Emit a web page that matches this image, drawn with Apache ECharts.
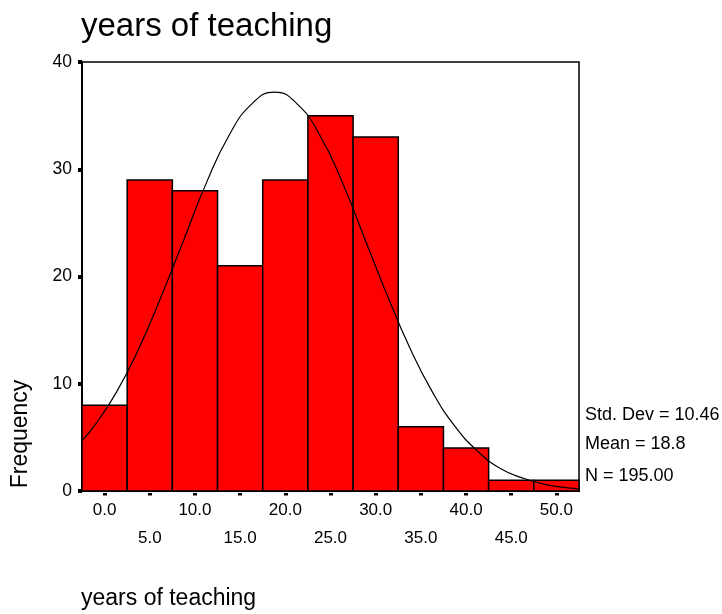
<!DOCTYPE html>
<html lang="en">
<head>
    <meta charset="UTF-8">
    <title>years of teaching</title>
    <script type="text/javascript" src="https://cdn.jsdelivr.net/npm/echarts@6/dist/echarts.min.js"></script>
    <style>
        html, body { margin: 0; padding: 0; background: #fff; }
        #hist { width: 722px; height: 614px; }
    </style>
</head>
<body>
<div id="hist"></div>
<script type="text/javascript">
    // bins (centre of each 5-year bin) and counts
    var binCenters = [0, 5, 10, 15, 20, 25, 30, 35, 40, 45, 50];
    var frequencies = [8, 29, 28, 21, 29, 35, 33, 6, 4, 1, 1];
    var binWidth = 5;

    // normal curve
    var curveX = [-2.5, -1.2, 1.3, 3.8, 6.3, 8.8, 11.3, 13.8, 16.3, 18.8, 21.3, 23.8, 26.3,
                  28.8, 31.3, 33.8, 36.3, 38.8, 41.3, 43.8, 46.3, 48.8, 51.3, 52.5];
    var curveY = [4.7, 6.0, 9.2, 13.3, 18.2, 23.5, 28.8, 33.2, 36.1, 37.2, 36.1, 33.2, 28.8,
                  23.5, 18.2, 13.3, 9.2, 6.0, 3.7, 2.1, 1.2, 0.6, 0.3, 0.2];

    var stats = ['Std. Dev = 10.46', 'Mean = 18.8', 'N = 195.00'];

    var font = "'Liberation Sans', Arial, sans-serif";
    var hist = echarts.init(document.getElementById('hist'));

    var option = {
        animation: false,
        textStyle: { fontFamily: font, color: '#000' },
        title: {
            text: 'years of teaching',
            left: 76,
            top: 5,
            textStyle: { fontFamily: font, fontSize: 33, fontWeight: 'normal', color: '#000' }
        },
        grid: {
            left: 82, top: 62, right: 143, bottom: 123,
            show: true, borderColor: '#000', borderWidth: 1.5, backgroundColor: '#fff'
        },
        xAxis: [{
            type: 'value', min: -2.5, max: 52.5,
            axisLine: { show: true, onZero: false, lineStyle: { color: '#000', width: 2 } },
            axisTick: { show: false },
            axisLabel: { show: false },
            splitLine: { show: false }
        }, {
            type: 'value', min: -2.5, max: 52.5, position: 'bottom', offset: 2,
            axisLine: { show: false, onZero: false },
            axisTick: { show: true, customValues: binCenters, length: 2.5,
                        lineStyle: { color: '#000', width: 4 } },
            axisLabel: {
                customValues: binCenters,
                fontFamily: font, fontSize: 17, color: '#000',
                lineHeight: 28, margin: 3.5,
                formatter: function (v) {
                    var i = binCenters.indexOf(v);
                    var s = v.toFixed(1);
                    return i % 2 === 0 ? s : '\n' + s;
                }
            },
            splitLine: { show: false }
        }],
        yAxis: {
            type: 'value', min: 0, max: 40, interval: 10,
            axisLine: { show: true, onZero: false, lineStyle: { color: '#000', width: 2 } },
            axisTick: { show: true, length: 4, lineStyle: { color: '#000', width: 4 } },
            axisLabel: { fontFamily: font, fontSize: 17.5, color: '#000', margin: 10 },
            splitLine: { show: false }
        },
        graphic: [{
            type: 'text', x: 21, y: 434, rotation: Math.PI / 2,
            style: { text: 'Frequency', font: '23px ' + font, fill: '#000',
                     textAlign: 'center', textVerticalAlign: 'middle' }
        }, {
            type: 'text', x: 81, y: 599,
            style: { text: 'years of teaching', font: '23px ' + font, fill: '#000',
                     textAlign: 'left', textVerticalAlign: 'middle' }
        }].concat(stats.map(function (s, i) {
            return {
                type: 'text', x: 585, y: [415, 444, 476][i],
                style: { text: s, font: '18px ' + font, fill: '#000',
                         textAlign: 'left', textVerticalAlign: 'middle' }
            };
        })),
        series: [{
            type: 'custom',
            xAxisIndex: 0,
            data: binCenters.map(function (c, i) { return [c, frequencies[i]]; }),
            encode: { x: 0, y: 1 },
            renderItem: function (params, api) {
                var c = api.value(0), v = api.value(1);
                var p0 = api.coord([c - binWidth / 2, v]);
                var p1 = api.coord([c + binWidth / 2, 0]);
                return {
                    type: 'rect',
                    shape: { x: p0[0], y: p0[1], width: p1[0] - p0[0], height: p1[1] - p0[1] },
                    style: { fill: '#ff0000', stroke: '#000', lineWidth: 1.5 }
                };
            }
        }, {
            type: 'line',
            xAxisIndex: 0,
            data: curveX.map(function (x, i) { return [x, curveY[i]]; }),
            smooth: true,
            showSymbol: false,
            lineStyle: { color: '#000', width: 1.2 }
        }]
    };

    hist.setOption(option);
</script>
</body>
</html>
